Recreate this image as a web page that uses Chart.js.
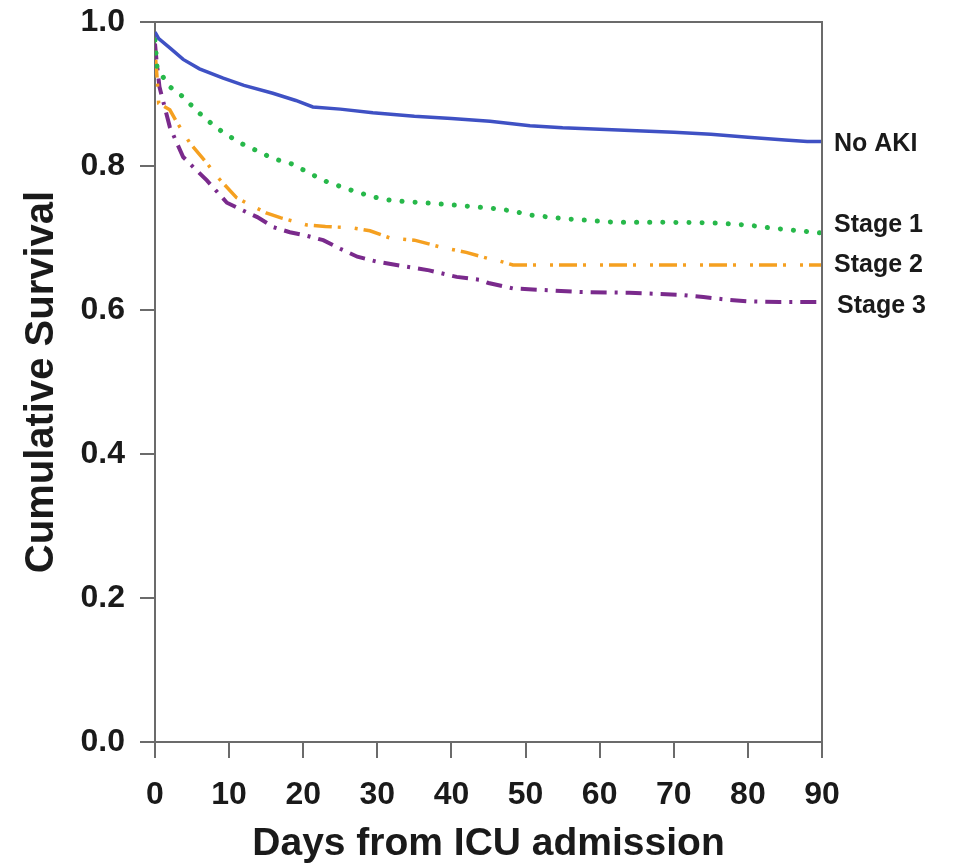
<!DOCTYPE html>
<html>
<head>
<meta charset="utf-8">
<script src="https://cdn.jsdelivr.net/npm/chart.js@4/dist/chart.umd.min.js"></script>
<style>
  html, body { margin: 0; padding: 0; background: #fff; }
  #wrap { width: 961px; height: 864px; }
</style>
</head>
<body>
<div id="wrap"><canvas id="kmChart" width="961" height="864"></canvas></div>
<script>
// survival curves (days, cumulative survival)
const noAkiDays = [0, 0.5, 2, 3.8, 6, 9.2, 12, 15.9, 19, 21.3, 25, 29.4, 35, 40, 45.2, 50.6, 55, 60, 65, 70, 75, 80, 85, 88, 90];
const noAki = [0.986, 0.977, 0.964, 0.948, 0.935, 0.922, 0.912, 0.901, 0.891, 0.882, 0.879, 0.874, 0.869, 0.866, 0.862, 0.856, 0.853, 0.851, 0.849, 0.847, 0.844, 0.84, 0.836, 0.834, 0.834];

const stage1Days = [0, 0.3, 1, 2, 3.8, 5.5, 7, 9, 11.5, 14, 16, 18.2, 20.5, 22.7, 26, 29.4, 32, 36.2, 40, 44.8, 48, 50.6, 55, 61.8, 68, 75.3, 80, 83, 86, 88.8, 90];
const stage1 = [0.975, 0.935, 0.925, 0.91, 0.896, 0.878, 0.864, 0.848, 0.832, 0.82, 0.81, 0.804, 0.792, 0.78, 0.768, 0.757, 0.752, 0.749, 0.746, 0.742, 0.738, 0.732, 0.727, 0.722, 0.722, 0.721, 0.718, 0.714, 0.711, 0.708, 0.707];

const stage2Days = [0, 0.3, 0.5, 2, 3, 4.7, 7, 8.4, 11, 13, 15, 17, 20.5, 23, 26.7, 29, 31.7, 35, 38.5, 42, 44.8, 46.5, 48.3, 55, 65, 75, 85, 90];
const stage2 = [0.96, 0.92, 0.887, 0.878, 0.86, 0.832, 0.804, 0.785, 0.756, 0.745, 0.735, 0.728, 0.718, 0.716, 0.714, 0.71, 0.70, 0.697, 0.6875, 0.68, 0.672, 0.668, 0.6625, 0.6625, 0.6625, 0.6625, 0.6625, 0.6625];

const stage3Days = [0, 0.2, 0.6, 2, 3.8, 5.5, 7, 9.7, 11.5, 13.8, 16, 18.2, 20.5, 22.7, 25, 27.3, 30, 34, 37, 40.7, 43.8, 45, 48.3, 52, 57.3, 64, 70.8, 74, 77.5, 80, 84.3, 90];
const stage3 = [0.97, 0.947, 0.91, 0.854, 0.8125, 0.795, 0.78, 0.749, 0.74, 0.729, 0.715, 0.708, 0.703, 0.697, 0.685, 0.674, 0.667, 0.66, 0.655, 0.646, 0.642, 0.6375, 0.63, 0.628, 0.625, 0.624, 0.621, 0.618, 0.614, 0.612, 0.611, 0.611];

const groupNames = ['No AKI', 'Stage 1', 'Stage 2', 'Stage 3'];
const xTicks = [0, 10, 20, 30, 40, 50, 60, 70, 80, 90];
const yTicks = [0.0, 0.2, 0.4, 0.6, 0.8, 1.0];

const FONT = "'Liberation Sans', Arial, Helvetica, sans-serif";
const AXIS_GREY = '#6b6b6b';

function pts(days, vals) {
    return days.map((d, i) => ({ x: d, y: vals[i] }));
}

// frame around plot + end-of-line group labels
const framePlugin = {
    id: 'frame',
    afterDatasetsDraw(chart) {
        const { ctx, chartArea: a } = chart;
        ctx.save();
        ctx.strokeStyle = AXIS_GREY;
        ctx.lineWidth = 2;
        ctx.beginPath();
        ctx.moveTo(a.left, a.top);
        ctx.lineTo(a.right, a.top);
        ctx.lineTo(a.right, a.bottom);
        ctx.stroke();

        const nudge = [3, -8, 0, 4];
        ctx.fillStyle = '#1a1a1a';
        ctx.font = 'bold 25px ' + FONT;
        ctx.textAlign = 'left';
        ctx.textBaseline = 'middle';
        chart.data.datasets.forEach((ds, i) => {
            const last = ds.data[ds.data.length - 1].y;
            const y = chart.scales.y.getPixelForValue(last) + nudge[i];
            ctx.fillText(groupNames[i], a.right + 12 + (i === 3 ? 3 : 0), y);
        });
        ctx.restore();
    }
};

const kmCtx = document.getElementById('kmChart').getContext('2d');

const kmConfig = {
    type: 'line',
    data: {
        datasets: [{
            label: groupNames[0],
            data: pts(noAkiDays, noAki),
            borderColor: '#3f51c4',
            borderWidth: 3.5,
        }, {
            label: groupNames[1],
            data: pts(stage1Days, stage1),
            borderColor: '#27b84a',
            borderWidth: 5,
            borderDash: [0.1, 13],
            borderCapStyle: 'round',
        }, {
            label: groupNames[2],
            data: pts(stage2Days, stage2),
            borderColor: '#f5a020',
            borderWidth: 3.5,
            borderDash: [3, 6, 18, 6, 3, 14],
        }, {
            label: groupNames[3],
            data: pts(stage3Days, stage3),
            borderColor: '#7a2a8c',
            borderWidth: 4,
            borderDash: [16, 8, 3, 8],
        }],
    },
    options: {
        responsive: false,
        animation: false,
        events: [],
        elements: {
            point: { radius: 0 },
            line: { tension: 0, fill: false },
        },
        layout: {
            padding: { top: 22, right: 139, left: 0, bottom: 0 },
        },
        scales: {
            x: {
                type: 'linear',
                min: 0,
                max: 90,
                afterBuildTicks: (scale) => { scale.ticks = xTicks.map(v => ({ value: v })); },
                afterFit: (scale) => { scale.height = 122; },
                ticks: {
                    color: '#1a1a1a',
                    font: { family: FONT, size: 32, weight: 'bold' },
                    padding: 18,
                    maxRotation: 0,
                },
                grid: {
                    drawOnChartArea: false,
                    drawTicks: true,
                    tickLength: 16,
                    color: AXIS_GREY,
                    lineWidth: 2,
                },
                border: { display: true, color: AXIS_GREY, width: 2 },
                title: {
                    display: true,
                    text: 'Days from ICU admission',
                    color: '#1a1a1a',
                    font: { family: FONT, size: 39, weight: 'bold' },
                    padding: { top: 0, bottom: -4 },
                },
            },
            y: {
                type: 'linear',
                min: 0,
                max: 1,
                afterBuildTicks: (scale) => { scale.ticks = yTicks.map(v => ({ value: v })); },
                afterFit: (scale) => {
                    scale.width = 155;
                    scale.paddingTop = 0;
                },
                ticks: {
                    color: '#1a1a1a',
                    font: { family: FONT, size: 32, weight: 'bold' },
                    padding: 15,
                    callback: (v) => Number(v).toFixed(1),
                },
                grid: {
                    drawOnChartArea: false,
                    drawTicks: true,
                    tickLength: 15,
                    color: AXIS_GREY,
                    lineWidth: 2,
                },
                border: { display: true, color: AXIS_GREY, width: 2 },
                title: {
                    display: true,
                    text: 'Cumulative Survival',
                    color: '#1a1a1a',
                    font: { family: FONT, size: 40, weight: 'bold' },
                    padding: { top: 18, bottom: 0 },
                },
            },
        },
        plugins: {
            legend: { display: false },
            tooltip: { enabled: false },
        },
    },
    plugins: [framePlugin],
};

const kmChart = new Chart(kmCtx, kmConfig);
</script>
</body>
</html>
